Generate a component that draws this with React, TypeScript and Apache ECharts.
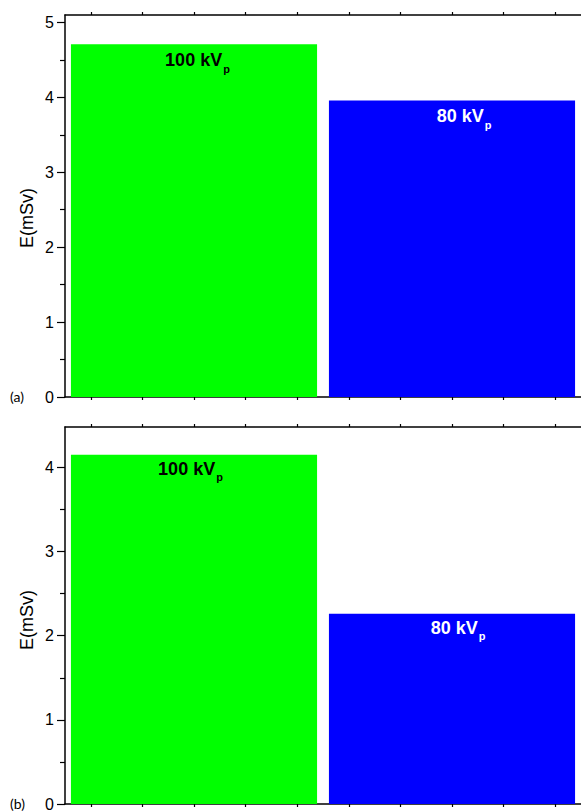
import React, { useEffect, useRef } from "react";
import * as echarts from "echarts";

const categories = ["100 kVp", "80 kVp"];
const valuesA = [4.71, 3.96];
const valuesB = [4.15, 2.26];
const colors = ["#00ff00", "#0000ff"];
const labelColors = ["#000000", "#ffffff"];
const labelMain = ["100 kV", "80 kV"];
const tickSlots = ["", "", "", "", "", "", "", "", "", ""];
const yTicksA = [0, 1, 2, 3, 4, 5];
const yTicksB = [0, 1, 2, 3, 4];
const panelTags = ["(a)", "(b)"];
const yName = "E(mSv)";

const NARROW = "'Liberation Sans Narrow', 'Liberation Sans', Arial, sans-serif";
const SANS = "'Liberation Sans', Arial, sans-serif";

export default function App() {
  const ref = useRef<HTMLDivElement>(null);
  useEffect(() => {
    if (!ref.current) return;
    const chart = echarts.init(ref.current, null, { renderer: "svg" });
    const axisLine = { show: true, lineStyle: { color: "#000", width: 1.5 } };

    const grids = [
      { left: 65, top: 15, width: 518, height: 382 },
      { left: 65, top: 427, width: 518, height: 381 },
    ];
    const maxes = [5.1, 4.48];
    const yTicks = [yTicksA, yTicksB];
    const labelOffsets = [
      [[3.5, 0], [12, 0]],
      [[-3.5, 0], [6, 0]],
    ];
    const labelDist = [6, 4];

    const xAxis: any[] = [];
    const yAxis: any[] = [];
    const series: any[] = [];
    [valuesA, valuesB].forEach((vals, gi) => {
      xAxis.push({
        type: "category",
        gridIndex: gi,
        data: categories,
        axisLine: { show: false },
        axisTick: { show: false },
        axisLabel: { show: false },
      });
      xAxis.push({
        type: "category",
        gridIndex: gi,
        position: "bottom",
        data: tickSlots,
        boundaryGap: true,
        axisLine,
        axisTick: { show: true, alignWithLabel: true, interval: 0, length: 3, lineStyle: { color: "#000", width: 1.2 } },
        axisLabel: { show: false, interval: 0 },
      });
      xAxis.push({
        type: "category",
        gridIndex: gi,
        position: "top",
        data: tickSlots,
        boundaryGap: true,
        axisLine,
        axisTick: { show: true, alignWithLabel: true, interval: 0, length: 3, lineStyle: { color: "#000", width: 1.2 } },
        axisLabel: { show: false, interval: 0 },
      });
      yAxis.push({
        type: "value",
        gridIndex: gi,
        min: 0,
        max: maxes[gi],
        interval: 1,
        axisLine,
        axisTick: { show: true, length: 8, customValues: yTicks[gi], lineStyle: { color: "#000", width: 1.2 } },
        minorTick: { show: true, splitNumber: 2, length: 5, lineStyle: { color: "#000", width: 1.2 } },
        splitLine: { show: false },
        axisLabel: {
          color: "#000",
          fontSize: 16,
          fontFamily: SANS,
          margin: 11,
          customValues: yTicks[gi],
          formatter: (v: number) => (Math.abs(v - Math.round(v)) < 1e-6 ? String(Math.round(v)) : ""),
        },
      });
      series.push({
        type: "bar",
        xAxisIndex: gi * 3,
        yAxisIndex: gi,
        barCategoryGap: "4.6%",
        data: vals.map((v, i) => ({
          value: v,
          itemStyle: { color: colors[i] },
          label: {
            show: true,
            position: "insideTop",
            distance: labelDist[gi],
            offset: labelOffsets[gi][i],
            formatter: `{a|${labelMain[i]}}{b|p}`,
            rich: {
              a: { fontSize: 18, fontWeight: "bold", fontFamily: NARROW, color: labelColors[i], lineHeight: 20 },
              b: { fontSize: 11, fontWeight: "bold", fontFamily: NARROW, color: labelColors[i], padding: [17, 0, 0, 1], lineHeight: 12 },
            },
          },
        })),
      });
    });

    chart.setOption({
      animation: false,
      backgroundColor: "#ffffff",
      grid: grids,
      xAxis,
      yAxis,
      series,
      graphic: [
        { type: "text", x: 27, y: 218, rotation: Math.PI / 2, style: { text: yName, fontSize: 18, fontFamily: SANS, fill: "#000", align: "center", verticalAlign: "middle" } },
        { type: "text", x: 27, y: 620, rotation: Math.PI / 2, style: { text: yName, fontSize: 18, fontFamily: SANS, fill: "#000", align: "center", verticalAlign: "middle" } },
        { type: "text", x: 10, y: 396, style: { text: panelTags[0], fontSize: 14, fontFamily: "Lato, sans-serif", fill: "#000", verticalAlign: "middle" } },
        { type: "text", x: 10, y: 803, style: { text: panelTags[1], fontSize: 14, fontFamily: "Lato, sans-serif", fill: "#000", verticalAlign: "middle" } },
      ],
    });
    return () => chart.dispose();
  }, []);
  return <div ref={ref} style={{ position: "fixed", left: 0, top: 0, width: 581, height: 812 }} />;
}
